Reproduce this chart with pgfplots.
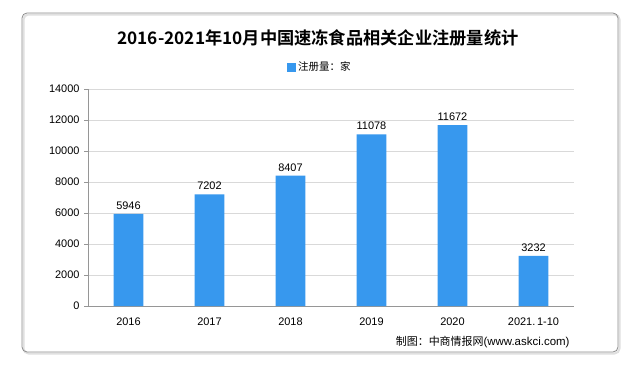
\documentclass[border=0pt]{standalone}
\usepackage{fontspec}
\setmainfont{Liberation Sans}
\newfontfamily\cjk{Noto Sans CJK SC}
\newfontfamily\cjkb{Noto Sans CJK SC Bold}
\usepackage{pgfplots}
\pgfplotsset{compat=1.18}
\definecolor{barblue}{RGB}{55,152,238}
\definecolor{gridgray}{RGB}{217,217,217}
\definecolor{axisgray}{RGB}{150,150,150}
\begin{document}
\begin{tikzpicture}
\path[use as bounding box] (0,0) rectangle (633bp,-370bp);
\fill[white] (0,0) rectangle (633bp,-370bp);
\draw[black!12, line width=2bp, rounded corners=5bp] (23.5bp,-14.5bp) rectangle (619.5bp,-353.5bp);
\draw[black!45, line width=0.8bp, rounded corners=5bp] (22bp,-13bp) rectangle (618bp,-352bp);
\node[font=\cjkb\fontsize{17.3}{19}\selectfont, anchor=center] at (318bp,-38bp) {2016-2021年10月中国速冻食品相关企业注册量统计};
\begin{axis}[
  at={(88bp,-306bp)}, anchor=south west,
  scale only axis, width=486bp, height=217bp,
  xmin=-0.5, xmax=5.5, ymin=0, ymax=14000,
  axis lines=left,
  axis line style={-, draw=axisgray, line width=0.6bp},
  ytick={0,2000,...,14000},
  scaled y ticks=false,
  xtick={0,...,5},
  xticklabels={2016,2017,2018,2019,2020,{2021.\,1-10}},
  major x tick style={draw=none},
  extra x ticks={-0.5,0.5,1.5,2.5,3.5,4.5,5.5},
  extra x tick labels={},
  extra x tick style={tick style={draw=axisgray, line width=0.6bp}, major tick length=4bp, grid=none},
  major tick length=4bp,
  tick align=outside,
  ytick style={draw=axisgray, line width=0.6bp},
  ymajorgrids,
  grid style={draw=gridgray, line width=0.6bp},
  tick label style={font=\fontsize{11}{12}\selectfont, text=black},
  xticklabel style={yshift=-4bp},
  yticklabel style={xshift=-1bp},
  /pgf/number format/assume math mode=true,
  /pgf/number format/1000 sep={},
  ybar, bar width=0.37,
  nodes near coords,
  nodes near coords style={font=\fontsize{11}{12}\selectfont, text=black, /pgf/number format/1000 sep={}, /pgf/number format/assume math mode=true, yshift=1bp},
  legend style={at={(0.477,1.101)}, anchor=center, draw=none, fill=none, font=\cjk\fontsize{10.5}{12}\selectfont, inner sep=0pt},
  legend image code/.code={\fill[barblue] (0,-0.45em) rectangle (0.9em,0.45em);},
  clip=false,
]
\addplot[fill=barblue, draw=none] coordinates {(0,5946) (1,7202) (2,8407) (3,11078) (4,11672) (5,3232)};
\addlegendentry{注册量：家}
\end{axis}
\node[anchor=east, font=\fontsize{11.5}{13}\selectfont] at (573bp,-342bp) {{\cjk\fontsize{11}{13}\selectfont 制图：中商情报网}(www.askci.com)};
\end{tikzpicture}
\end{document}
